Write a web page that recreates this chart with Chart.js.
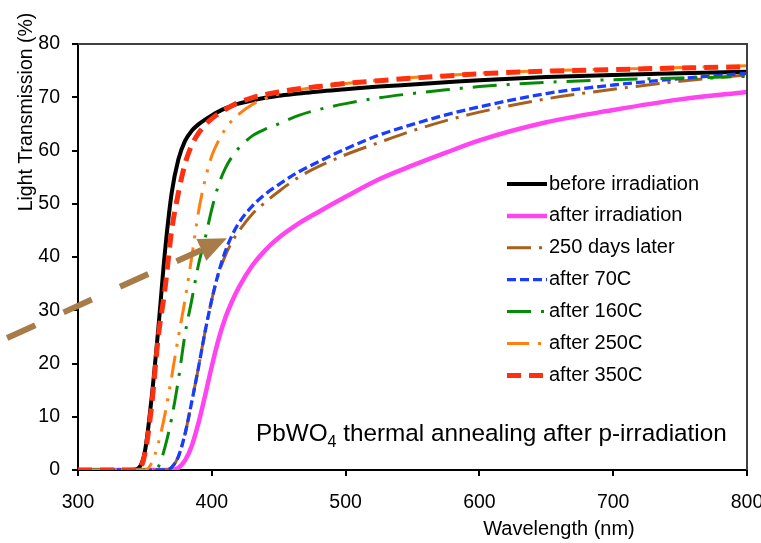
<!DOCTYPE html>
<html>
<head>
<meta charset="utf-8">
<script src="https://cdn.jsdelivr.net/npm/chart.js@4.4.1/dist/chart.umd.min.js"></script>
<style>
  html, body { margin: 0; padding: 0; background: #fff; }
  #wrap { width: 761px; height: 543px; position: relative; }
</style>
</head>
<body>
<div id="wrap"><canvas id="chart"></canvas></div>
<script>
// wavelength grid (nm) shared by all spectra
const wavelengths = [300, 340, 345, 350, 355, 360, 365, 370, 375, 380, 385, 390, 395, 400, 405, 410, 415, 420, 430, 440, 450, 465, 480, 500, 525, 550, 575, 600, 650, 700, 750, 800];

// transmission (%) per measurement
const beforeIrradiation = [0, 0, 0.3, 3.5, 13.5, 26.5, 41, 52, 58.3, 61.8, 63.7, 64.9, 65.8, 66.6, 67.3, 67.9, 68.4, 68.8, 69.4, 69.9, 70.3, 70.7, 71.1, 71.5, 72.0, 72.4, 72.8, 73.2, 73.8, 74.2, 74.5, 74.8];
const afterIrradiation = [0, 0, 0, 0, 0, 0, 0, 0, 0.4, 1.8, 4.5, 8.8, 14, 19.5, 24.5, 28.5, 31.6, 34.2, 38.3, 41.3, 43.6, 46.3, 48.5, 51.3, 54.6, 57.2, 59.6, 61.9, 65.3, 67.6, 69.6, 71];
const days250Later = [0, 0, 0, 0, 0, 0, 0, 0.5, 2.5, 6.8, 12.8, 19.2, 26, 32, 36.8, 40.2, 42.8, 44.8, 48, 50.3, 52.3, 55, 57, 59.2, 61.5, 63.7, 65.6, 67.2, 69.7, 71.5, 73, 74.2];
const after70C = [0, 0, 0, 0, 0, 0, 0, 0.5, 2.5, 6.8, 12.8, 19.2, 26, 32, 37, 41, 44, 46.3, 49.5, 51.8, 53.6, 56, 57.9, 60.3, 62.9, 64.9, 66.7, 68.2, 70.7, 72.3, 73.5, 74.5];
const after160C = [0, 0, 0, 0, 0, 0.6, 4.3, 9.7, 16.9, 25.5, 31.9, 38.5, 43.5, 49, 53.5, 56.6, 58.8, 60.4, 62.7, 64, 65, 66.6, 67.7, 68.8, 69.9, 70.7, 71.4, 72.0, 72.8, 73.3, 73.6, 73.9];
const after250C = [0, 0, 0, 0, 1.3, 5, 10.5, 17.5, 25, 32, 40, 48.4, 54.5, 59, 61.8, 64, 65.6, 66.8, 68.6, 69.8, 70.6, 71.4, 72.0, 72.6, 73.2, 73.7, 74.1, 74.5, 75.0, 75.3, 75.6, 75.9];
const after350C = [0, 0, 0, 3, 12, 25, 34, 45, 52, 57.5, 61, 63.2, 64.8, 66, 66.9, 67.7, 68.4, 69.0, 69.9, 70.5, 71.0, 71.6, 72.0, 72.6, 73.1, 73.6, 74.0, 74.4, 74.9, 75.2, 75.5, 75.7];

const seriesNames = ['before irradiation', 'after irradiation', '250 days later', 'after 70C', 'after 160C', 'after 250C', 'after 350C'];
const seriesValues = [beforeIrradiation, afterIrradiation, days250Later, after70C, after160C, after250C, after350C];

const xTicks = [300, 400, 500, 600, 700, 800];
const yTicks = [0, 10, 20, 30, 40, 50, 60, 70, 80];

// arrow from recovery annotation (wavelength, %)
const arrowTail = [247, 24.8];
const arrowTip = [411.3, 43.5];

const styles = [
  { color: '#000000', width: 4, dash: [] },
  { color: '#FF44F0', width: 4.5, dash: [] },
  { color: '#A8601E', width: 3, dash: [24, 8, 3, 8] },
  { color: '#1A3CFF', width: 3.3, dash: [9, 4] },
  { color: '#078A07', width: 3, dash: [24, 10, 3, 10] },
  { color: '#FF8010', width: 3, dash: [22, 9, 3, 9, 3, 9] },
  { color: '#FF3010', width: 5, dash: [14, 8] }
];

const FONT = 'Arial, "Liberation Sans", sans-serif';
Chart.defaults.font.family = FONT;
Chart.defaults.color = '#000';

const datasets = seriesValues.map((vals, i) => ({
  label: seriesNames[i],
  data: vals.map((v, k) => ({ x: wavelengths[k], y: v })),
  borderColor: styles[i].color,
  borderWidth: styles[i].width,
  borderDash: styles[i].dash,
  pointRadius: 0,
  fill: false,
  cubicInterpolationMode: 'monotone',
  order: seriesValues.length - i
}));

const decorations = {
  id: 'decorations',
  afterDraw(chart) {
    const { ctx, chartArea: a, scales: { x, y } } = chart;
    ctx.save();

    // top and right frame
    ctx.strokeStyle = '#404040';
    ctx.lineWidth = 2;
    ctx.beginPath();
    ctx.moveTo(a.left, a.top);
    ctx.lineTo(a.right, a.top);
    ctx.lineTo(a.right, a.bottom);
    ctx.stroke();

    // dashed arrow
    const x0 = x.getPixelForValue(arrowTail[0]), y0 = y.getPixelForValue(arrowTail[1]);
    const x1 = x.getPixelForValue(arrowTip[0]), y1 = y.getPixelForValue(arrowTip[1]);
    const len = Math.hypot(x1 - x0, y1 - y0);
    const ux = (x1 - x0) / len, uy = (y1 - y0) / len;
    const headLen = 28, headHalf = 12;
    const bx = x1 - ux * headLen, by = y1 - uy * headLen;
    ctx.strokeStyle = '#A87C48';
    ctx.fillStyle = '#A87C48';
    ctx.lineWidth = 6;
    ctx.setLineDash([31, 31]);
    ctx.beginPath();
    ctx.moveTo(x0, y0);
    ctx.lineTo(bx, by);
    ctx.stroke();
    ctx.setLineDash([]);
    ctx.beginPath();
    ctx.moveTo(x1, y1);
    ctx.lineTo(bx - uy * headHalf, by + ux * headHalf);
    ctx.lineTo(bx + uy * headHalf, by - ux * headHalf);
    ctx.closePath();
    ctx.fill();

    // legend
    const lx0 = a.left + 429, lx1 = a.left + 469, tx = a.left + 471;
    ctx.font = '20px ' + FONT;
    ctx.textBaseline = 'middle';
    ctx.textAlign = 'left';
    chart.data.datasets.forEach((ds, i) => {
      const ly = a.top + 140 + i * 31.9;
      ctx.strokeStyle = ds.borderColor;
      ctx.lineWidth = ds.borderWidth;
      ctx.setLineDash(ds.borderDash);
      ctx.beginPath();
      ctx.moveTo(lx0, ly);
      ctx.lineTo(lx1, ly);
      ctx.stroke();
      ctx.setLineDash([]);
      ctx.fillStyle = '#000';
      ctx.fillText(ds.label, tx, ly);
    });

    // caption with subscript
    ctx.textBaseline = 'alphabetic';
    ctx.fillStyle = '#000';
    let cx = a.left + 178;
    const cy = a.bottom - 29;
    ctx.font = '24.3px ' + FONT;
    ctx.fillText('PbWO', cx, cy);
    cx += ctx.measureText('PbWO').width;
    ctx.font = '16px ' + FONT;
    ctx.fillText('4', cx, cy + 6);
    cx += ctx.measureText('4').width;
    ctx.font = '24.3px ' + FONT;
    ctx.fillText(' thermal annealing after p-irradiation', cx, cy);

    // axis titles
    ctx.textAlign = 'center';
    ctx.textBaseline = 'middle';
    ctx.font = '20px ' + FONT;
    ctx.fillText('Wavelength (nm)', 559, 529);
    ctx.translate(27, 112);
    ctx.rotate(-Math.PI / 2);
    ctx.font = '19.5px ' + FONT;
    ctx.fillText('Light Transmission (%)', 0, 0);

    ctx.restore();
  }
};

new Chart(document.getElementById('chart'), {
  type: 'line',
  data: { datasets },
  options: {
    responsive: true,
    maintainAspectRatio: false,
    animation: false,
    layout: { padding: { left: 0, top: 44, right: 14, bottom: 0 } },
    plugins: { legend: { display: false }, tooltip: { enabled: false } },
    scales: {
      x: {
        type: 'linear',
        min: 300, max: 800,
        afterBuildTicks: s => { s.ticks = xTicks.map(v => ({ value: v })); },
        afterFit: s => { s.height = 73; s.paddingLeft = 0; s.paddingRight = 0; },
        ticks: { font: { size: 19.5 }, color: '#000', padding: 15, maxRotation: 0 },
        grid: { drawOnChartArea: false, drawTicks: true, tickLength: 6, color: '#000', lineWidth: 2 },
        border: { display: true, color: '#000', width: 2 }
      },
      y: {
        min: 0, max: 80,
        afterBuildTicks: s => { s.ticks = yTicks.map(v => ({ value: v })); },
        afterFit: s => { s.width = 78; s.paddingTop = 0; s.paddingBottom = 0; },
        ticks: { font: { size: 19.5 }, color: '#000', padding: 12 },
        grid: { drawOnChartArea: false, drawTicks: true, tickLength: 6, color: '#000', lineWidth: 2 },
        border: { display: true, color: '#000', width: 2 }
      }
    }
  },
  plugins: [decorations]
});
</script>
</body>
</html>
